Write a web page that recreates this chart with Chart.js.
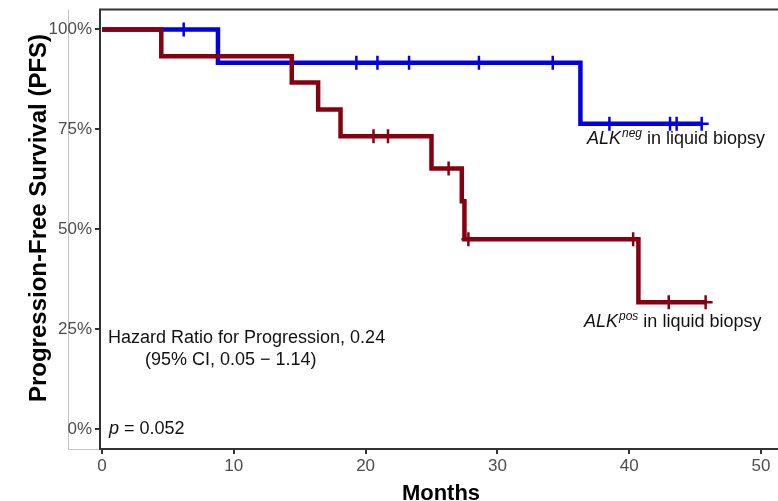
<!DOCTYPE html>
<html>
<head>
<meta charset="utf-8">
<script src="https://cdn.jsdelivr.net/npm/chart.js@4/dist/chart.umd.min.js"></script>
<style>
  html, body { margin: 0; padding: 0; background: #ffffff; }
  #wrap { position: relative; width: 778px; height: 501px; }
</style>
</head>
<body>
<div id="wrap"><canvas id="c" width="778" height="501"></canvas></div>
<script>
// ---- data ----
const monthTicks = [0, 10, 20, 30, 40, 50];
const survTicks = [0, 25, 50, 75, 100];

// ALK neg (blue) Kaplan-Meier steps
const negTimes = [0, 8.8, 36.3, 45.6];
const negSurv  = [100, 91.7, 76.4, 76.4];
const negCensorTimes = [6.2, 19.3, 20.9, 23.3, 28.6, 34.2, 38.5, 43.1, 43.6, 45.5];
const negCensorSurv  = [100, 91.7, 91.7, 91.7, 91.7, 91.7, 76.4, 76.4, 76.4, 76.4];

// ALK pos (dark red) Kaplan-Meier steps
const posTimes = [0, 4.5, 14.4, 16.4, 18.1, 25.0, 27.3, 27.5, 40.7, 45.9];
const posSurv  = [100, 93.3, 86.7, 80.0, 73.3, 65.2, 57.0, 47.5, 31.7, 31.7];
const posCensorTimes = [20.6, 21.7, 26.3, 27.8, 40.3, 43.0, 45.8];
const posCensorSurv  = [73.3, 73.3, 65.2, 47.5, 47.5, 31.7, 31.7];

const xTitle = 'Months';
const yTitle = 'Progression-Free Survival (PFS)';
const hrLine1 = 'Hazard Ratio for Progression, 0.24';
const hrLine2 = '(95% CI, 0.05 \u2212 1.14)';
const pLabel = ['p', ' = 0.052'];
const negLabel = ['ALK', 'neg', ' in liquid biopsy'];
const posLabel = ['ALK', 'pos', ' in liquid biopsy'];

const BLUE = '#0000e0';
const RED = '#870010';
const FONT = '"Liberation Sans", Arial, Helvetica, sans-serif';

function pts(xs, ys) { return xs.map((x, i) => ({ x: x, y: ys[i] })); }

const decor = {
  id: 'decor',
  beforeDraw(chart) {
    const ctx = chart.ctx, a = chart.chartArea;
    ctx.save();
    // faint outer panel outline
    ctx.strokeStyle = '#c4c4c4';
    ctx.lineWidth = 1;
    ctx.beginPath();
    ctx.moveTo(68.5, a.top);
    ctx.lineTo(68.5, a.bottom + 0.5);
    ctx.lineTo(a.left, a.bottom + 0.5);
    ctx.stroke();
    ctx.restore();
  },
  afterDraw(chart) {
    const ctx = chart.ctx, a = chart.chartArea;
    ctx.save();
    // top panel border, and the bottom axis line carried to the canvas edge
    ctx.strokeStyle = '#333333';
    ctx.lineWidth = 2;
    ctx.beginPath();
    ctx.moveTo(a.left - 1, a.top);
    ctx.lineTo(chart.width, a.top);
    ctx.moveTo(a.right - 2, a.bottom);
    ctx.lineTo(chart.width, a.bottom);
    ctx.stroke();

    // axis titles
    ctx.fillStyle = '#000000';
    ctx.font = 'bold 22px ' + FONT;
    ctx.textAlign = 'center';
    ctx.textBaseline = 'alphabetic';
    ctx.fillText(xTitle, 441, 500);

    ctx.save();
    ctx.translate(46, 218);
    ctx.rotate(-Math.PI / 2);
    ctx.font = 'bold 24px ' + FONT;
    ctx.fillText(yTitle, 0, 0);
    ctx.restore();

    // annotations
    ctx.textAlign = 'left';
    ctx.fillStyle = '#111111';
    ctx.font = '18px ' + FONT;
    ctx.fillText(hrLine1, 108, 343);
    ctx.fillText(hrLine2, 145, 365);

    function rich(parts, x, y) {
      ctx.font = 'italic 18px ' + FONT;
      ctx.fillText(parts[0], x, y);
      x += ctx.measureText(parts[0]).width + 1;
      ctx.font = 'italic 12px ' + FONT;
      ctx.fillText(parts[1], x, y - 7);
      x += ctx.measureText(parts[1]).width;
      ctx.font = '18px ' + FONT;
      ctx.fillText(parts[2], x, y);
    }
    rich(negLabel, 587, 144);
    rich(posLabel, 584, 327);

    ctx.font = 'italic 18px ' + FONT;
    ctx.fillText(pLabel[0], 109, 434);
    let px = 109 + ctx.measureText(pLabel[0]).width;
    ctx.font = '18px ' + FONT;
    ctx.fillText(pLabel[1], px, 434);
    ctx.restore();
  }
};

const lineStyle = {
  showLine: true,
  stepped: 'before',
  borderWidth: 4.5,
  pointRadius: 0,
  pointHoverRadius: 0,
  fill: false,
  borderCapStyle: 'butt',
  borderJoinStyle: 'miter'
};
const censorStyle = {
  showLine: false,
  pointStyle: 'cross',
  pointRadius: 7,
  pointHoverRadius: 7,
  pointBorderWidth: 2.5
};

function noPad(s) {
  s.paddingLeft = 0; s.paddingRight = 0; s.paddingTop = 0; s.paddingBottom = 0;
}

new Chart(document.getElementById('c'), {
  type: 'scatter',
  data: {
    datasets: [
      Object.assign({ label: 'ALK pos censor', data: pts(posCensorTimes, posCensorSurv),
        borderColor: RED, backgroundColor: RED }, censorStyle),
      Object.assign({ label: 'ALK pos', data: pts(posTimes, posSurv),
        borderColor: RED, backgroundColor: RED }, lineStyle),
      Object.assign({ label: 'ALK neg censor', data: pts(negCensorTimes, negCensorSurv),
        borderColor: BLUE, backgroundColor: BLUE }, censorStyle),
      Object.assign({ label: 'ALK neg', data: pts(negTimes, negSurv),
        borderColor: BLUE, backgroundColor: BLUE }, lineStyle)
    ]
  },
  options: {
    responsive: false,
    animation: false,
    devicePixelRatio: 1,
    layout: { padding: { top: 8, right: 0, bottom: 0, left: 0 } },
    plugins: {
      legend: { display: false },
      tooltip: { enabled: false },
      title: { display: false }
    },
    scales: {
      x: {
        type: 'linear',
        min: -0.15,
        max: 50.57,
        afterBuildTicks(s) { s.ticks = monthTicks.map(v => ({ value: v })); },
        afterFit(s) { s.height = 52; noPad(s); },
        border: { display: true, color: '#333333', width: 2 },
        grid: { drawOnChartArea: false, drawTicks: true, tickLength: 5, color: '#333333', lineWidth: 2 },
        ticks: { color: '#4d4d4d', font: { family: FONT, size: 17 }, padding: 2, maxRotation: 0 }
      },
      y: {
        type: 'linear',
        min: -5,
        max: 105,
        afterBuildTicks(s) { s.ticks = survTicks.map(v => ({ value: v })); },
        afterFit(s) { s.width = 100; noPad(s); },
        border: { display: true, color: '#333333', width: 2 },
        grid: { drawOnChartArea: false, drawTicks: true, tickLength: 5, color: '#333333', lineWidth: 2 },
        ticks: { color: '#4d4d4d', font: { family: FONT, size: 17 }, padding: 3,
          callback: v => v + '%' }
      }
    }
  },
  plugins: [decor]
});
</script>
</body>
</html>
